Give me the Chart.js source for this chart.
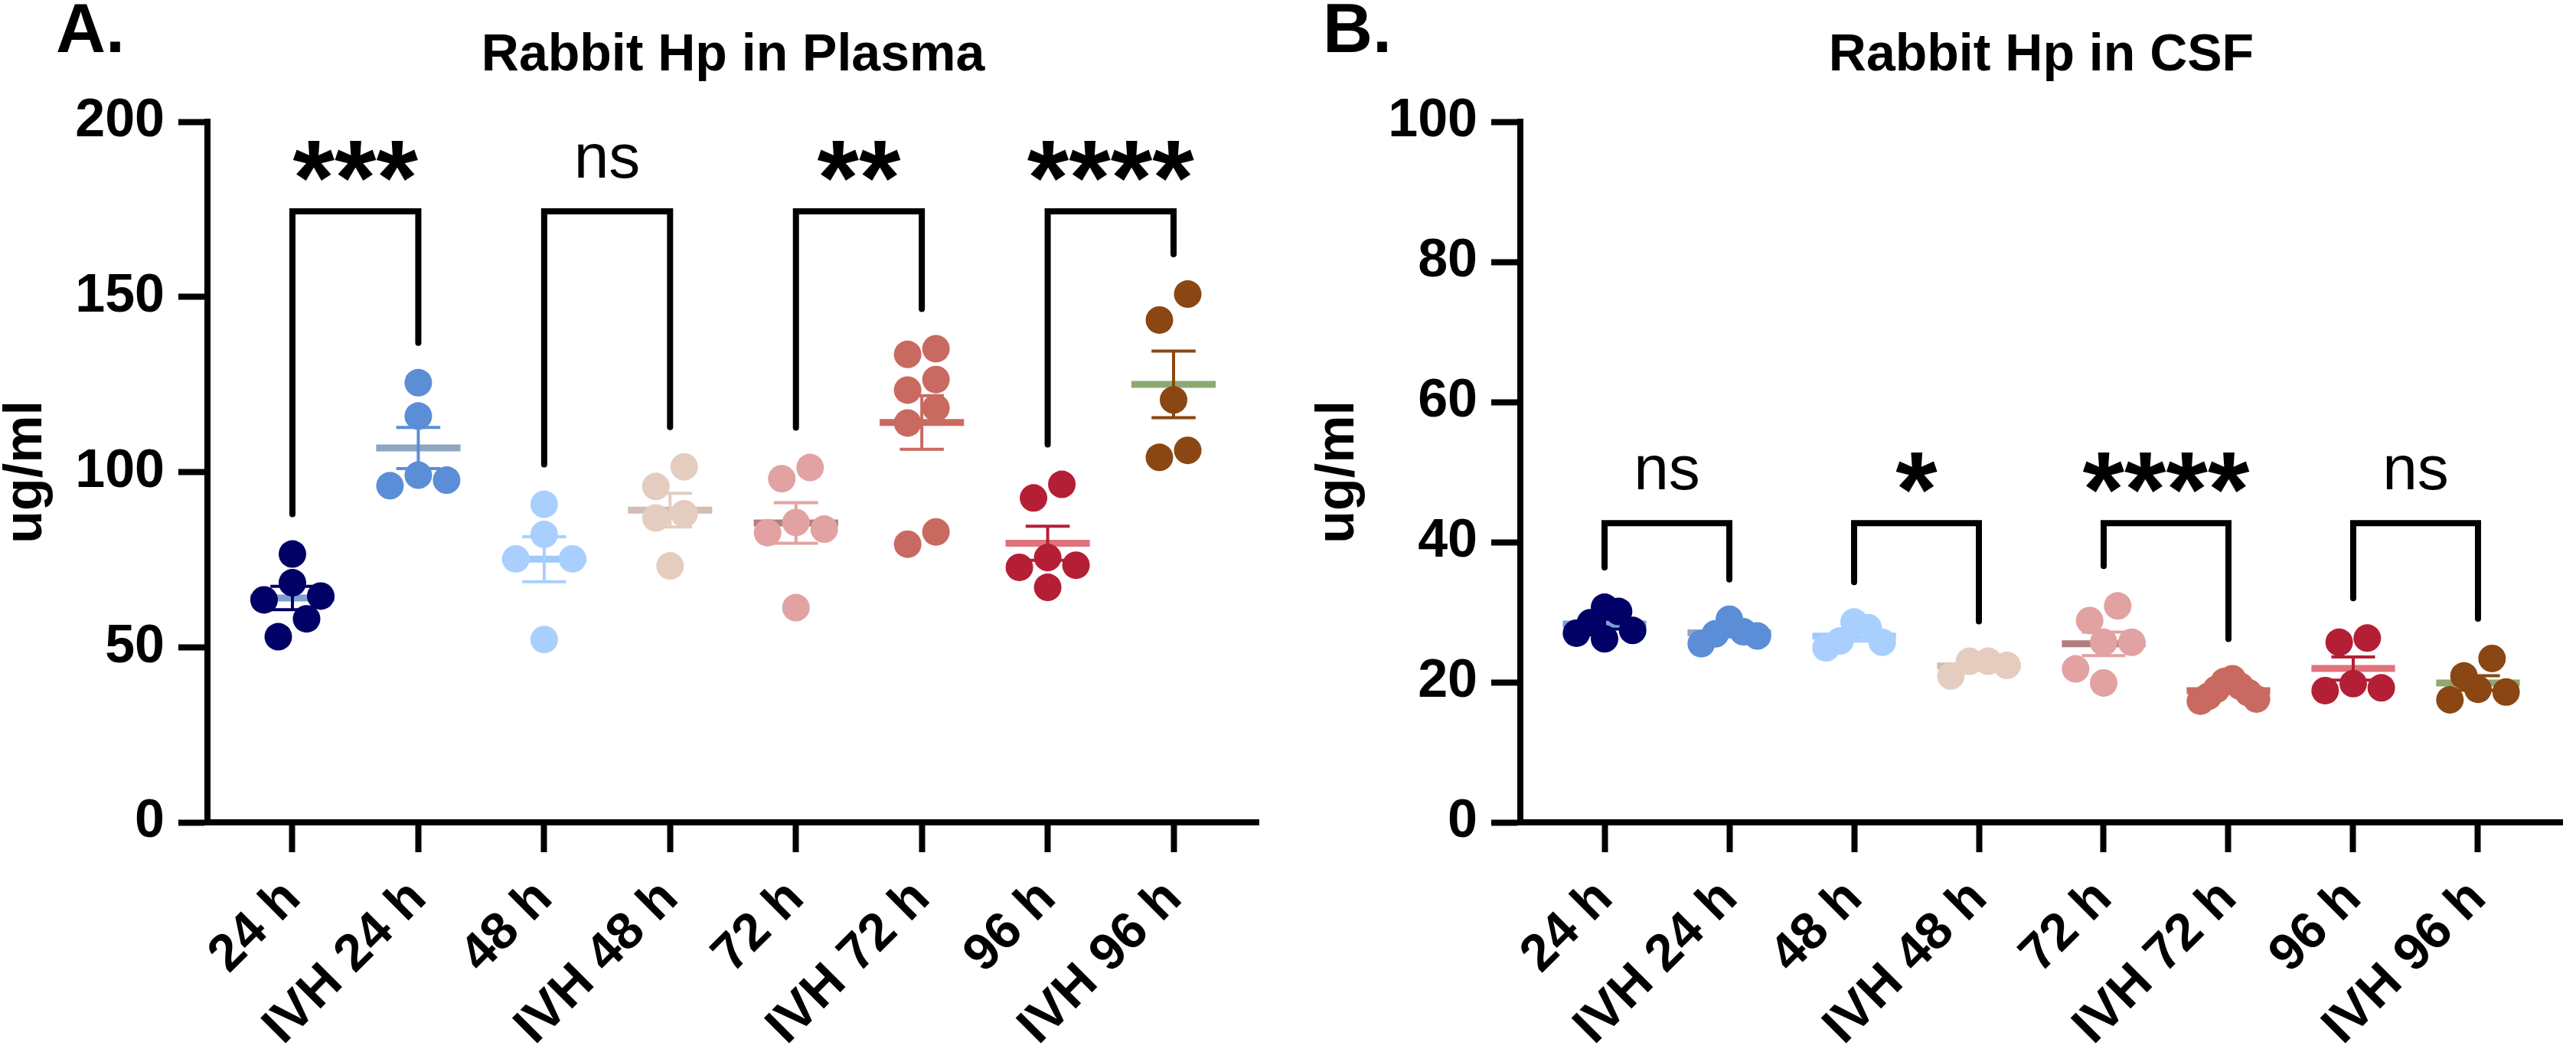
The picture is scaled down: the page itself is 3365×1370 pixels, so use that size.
<!DOCTYPE html>
<html><head><meta charset="utf-8">
<script src="https://cdn.jsdelivr.net/npm/chart.js@4.4.1/dist/chart.umd.min.js"></script>
<style>
html,body{margin:0;padding:0;background:#fff;}
#wrap{position:relative;width:3365px;height:1370px;background:#fff;overflow:hidden;}
#cA{position:absolute;left:0;top:0;}
#cB{position:absolute;left:1680px;top:0;}
</style></head><body>
<div id="wrap"><canvas id="cA" width="1680" height="1370"></canvas><canvas id="cB" width="1685" height="1370"></canvas></div>
<script>
// ---------- data ----------
const categories = ['24 h', 'IVH 24 h', '48 h', 'IVH 48 h', '72 h', 'IVH 72 h', '96 h', 'IVH 96 h'];

const plasma_24h    = [76.6, 68.4, 64.6, 63.5, 58.1, 53.0];
const plasma_IVH24h = [125.5, 116.0, 99.1, 97.7, 96.1];
const plasma_48h    = [90.8, 82.2, 75.2, 75.2, 52.2];
const plasma_IVH48h = [101.5, 95.9, 88.1, 86.9, 73.2];
const plasma_72h    = [101.3, 98.1, 85.6, 83.7, 82.7, 61.3];
const plasma_IVH72h = [135.2, 133.6, 126.4, 123.4, 118.3, 114.0, 82.9, 79.4];
const plasma_96h    = [96.5, 92.6, 75.6, 73.4, 72.8, 67.1];
const plasma_IVH96h = [150.8, 143.4, 120.6, 106.2, 104.2];

const csf_24h    = [30.7, 30.1, 28.5, 27.4, 27.0, 26.2];
const csf_IVH24h = [29.0, 27.2, 26.9, 26.6, 25.5];
const csf_48h    = [28.6, 27.8, 25.9, 25.7, 24.9];
const csf_IVH48h = [23.0, 23.0, 22.4, 20.9];
const csf_72h    = [30.9, 28.8, 25.7, 25.7, 21.9, 19.9];
const csf_IVH72h = [20.5, 20.1, 19.4, 19.0, 18.5, 18.0, 17.6, 17.3];
const csf_96h    = [26.3, 25.7, 19.8, 19.2, 18.8];
const csf_IVH96h = [23.4, 20.9, 19.0, 18.6, 17.5];

const plasmaTicks = [0, 50, 100, 150, 200];
const csfTicks = [0, 20, 40, 60, 80, 100];
const plasmaSig = ['***', 'ns', '**', '****'];
const csfSig = ['ns', '*', '****', 'ns'];

// ---------- styles ----------
const pointColors = ['#000066', '#5B8ED6', '#A9CFFF', '#E4CDBF', '#E2A2A2', '#C96A61', '#B41F36', '#8A4713'];
const meanColors  = ['#7E9FD4', '#8FA6C2', '#A0C8FA', '#D3BDB2', '#B27D7D', '#C96A61', '#E1727B', '#8CAA70'];
const FONT = '"Liberation Sans", Arial, Helvetica, sans-serif';
Chart.defaults.font.family = FONT;
const DOT_R = 18, DOT_D = 37;
const MEAN_HALF = 0.335, CAP_HALF = 0.175;
const LEG_GAP = 52, TOP_GAP = 108, SIG_GAP = 66;

function mean(a) { return a.reduce((s, v) => s + v, 0) / a.length; }
function sem(a) {
  const m = mean(a);
  const sd = Math.sqrt(a.reduce((s, v) => s + (v - m) * (v - m), 0) / (a.length - 1));
  return sd / Math.sqrt(a.length);
}
// horizontal spread (in px) of points that would overlap, row by row
function swarmOffsets(pxVals, d) {
  const order = pxVals.map((v, i) => i).sort((a, b) => pxVals[a] - pxVals[b]);
  const offs = new Array(pxVals.length).fill(0);
  const rows = []; let row = [];
  order.forEach(i => {
    if (row.length && (pxVals[i] - pxVals[row[0]]) >= d) { rows.push(row); row = []; }
    row.push(i);
  });
  if (row.length) rows.push(row);
  rows.forEach(r => {
    const n = r.length;
    if (n < 2) return;
    const s = Math.min(d, 2 * d / (n - 1));
    const slots = [...Array(n).keys()].map(k => (k - (n - 1) / 2) * s);
    slots.sort((a, b) => Math.abs(a) - Math.abs(b) || b - a);
    r.forEach((i, j) => { offs[i] = slots[j]; });
  });
  return offs;
}

const annotPlugin = {
  id: 'annot',
  afterDraw(chart, args, o) {
    const ctx = chart.ctx, xs = chart.scales.x, ys = chart.scales.y, ca = chart.chartArea;
    ctx.save();
    ctx.fillStyle = '#000';
    ctx.textBaseline = 'alphabetic';
    ctx.textAlign = 'left';
    ctx.font = 'bold 90px ' + FONT;
    ctx.fillText(o.letter, o.letterX, 68);
    ctx.textAlign = 'center';
    ctx.font = 'bold 68px ' + FONT;
    ctx.fillText(o.title, (ca.left + ca.right) / 2, 92);
    if (chart.$bracketTop !== undefined) {
      const yTop = ys.getPixelForValue(chart.$bracketTop) - SIG_GAP;
      o.sig.forEach((t, p) => {
        const cx = (xs.getPixelForValue(2 * p) + xs.getPixelForValue(2 * p + 1)) / 2;
        ctx.font = (t === 'ns' ? '82px ' : 'bold 140px ') + FONT;
        const m = ctx.measureText(t);
        const by = yTop + (m.actualBoundingBoxAscent - m.actualBoundingBoxDescent) / 2;
        ctx.fillText(t, cx, by);
      });
    }
    ctx.restore();
  }
};

function makeChart(canvas, groups, cfg) {
  const chart = new Chart(canvas, {
    type: 'scatter',
    data: { datasets: [] },
    options: {
      responsive: false, animation: false, devicePixelRatio: 1,
      layout: { padding: cfg.padding },
      plugins: {
        legend: { display: false }, tooltip: { enabled: false },
        annot: { letter: cfg.letter, letterX: cfg.letterX, title: cfg.title, sig: cfg.sig }
      },
      scales: {
        x: {
          type: 'linear', min: -0.675, max: categories.length - 0.325,
          afterBuildTicks: s => { s.ticks = categories.map((c, i) => ({ value: i })); },
          afterFit: s => { s.height = 296; },
          ticks: {
            autoSkip: false, minRotation: 45, maxRotation: 45, padding: 21, color: '#000',
            font: { size: 68, weight: 'bold' },
            callback: v => categories[v]
          },
          grid: { drawOnChartArea: false, drawTicks: true, tickLength: 39, tickWidth: 8, tickColor: '#000' },
          border: { display: true, width: 8, color: '#000' }
        },
        y: {
          min: 0, max: cfg.ticks[cfg.ticks.length - 1],
          afterBuildTicks: s => { s.ticks = cfg.ticks.map(v => ({ value: v })); },
          afterFit: s => { s.width = cfg.yWidth; },
          ticks: { padding: 18, color: '#000', font: { size: 70, weight: 'bold' } },
          grid: { drawOnChartArea: false, drawTicks: true, tickLength: 38, tickWidth: 8, tickColor: '#000' },
          border: { display: true, width: 8, color: '#000' },
          title: { display: true, text: 'ug/ml', color: '#000', padding: 0, font: { size: 70, weight: 'bold', lineHeight: 1 } }
        }
      }
    },
    plugins: [annotPlugin]
  });

  const xs = chart.scales.x, ys = chart.scales.y;
  const pxIdx = xs.getPixelForValue(1) - xs.getPixelForValue(0);
  const pxUnit = ys.getPixelForValue(0) - ys.getPixelForValue(1);
  const ds = [];
  groups.forEach((vals, g) => {
    const m = mean(vals), e = sem(vals);
    ds.push({
      type: 'line', order: 3, data: [{ x: g - MEAN_HALF, y: m }, { x: g + MEAN_HALF, y: m }],
      borderColor: meanColors[g], borderWidth: 9, pointRadius: 0, borderCapStyle: 'butt'
    });
    const offs = swarmOffsets(vals.map(v => ys.getPixelForValue(v)), DOT_D);
    ds.push({
      type: 'scatter', order: 2,
      data: vals.map((v, i) => ({ x: g + offs[i] / pxIdx, y: v })),
      pointRadius: DOT_R, pointHoverRadius: DOT_R, pointBackgroundColor: pointColors[g],
      backgroundColor: pointColors[g], pointBorderWidth: 0, borderWidth: 0
    });
    ds.push({
      type: 'line', order: 1, spanGaps: false,
      data: [
        { x: g - CAP_HALF, y: m + e }, { x: g + CAP_HALF, y: m + e }, { x: g, y: null },
        { x: g, y: m + e }, { x: g, y: m - e }, { x: g, y: null },
        { x: g - CAP_HALF, y: m - e }, { x: g + CAP_HALF, y: m - e }
      ],
      borderColor: pointColors[g], borderWidth: 4, pointRadius: 0, borderCapStyle: 'butt'
    });
  });
  const gmax = Math.max(...groups.map(a => Math.max(...a)));
  const top = gmax + TOP_GAP / pxUnit;
  chart.$bracketTop = top;
  for (let p = 0; p < groups.length / 2; p++) {
    const a = 2 * p, b = 2 * p + 1;
    ds.push({
      type: 'line', order: 0,
      data: [
        { x: a, y: Math.max(...groups[a]) + LEG_GAP / pxUnit }, { x: a, y: top },
        { x: b, y: top }, { x: b, y: Math.max(...groups[b]) + LEG_GAP / pxUnit }
      ],
      borderColor: '#000', borderWidth: 8, pointRadius: 0, tension: 0,
      borderJoinStyle: 'miter', borderCapStyle: 'round'
    });
  }
  chart.data.datasets = ds;
  chart.update('none');
  return chart;
}

makeChart(document.getElementById('cA'),
  [plasma_24h, plasma_IVH24h, plasma_48h, plasma_IVH48h, plasma_72h, plasma_IVH72h, plasma_96h, plasma_IVH96h],
  { padding: { left: 0, right: 36, top: 159, bottom: 0 }, yWidth: 271, ticks: plasmaTicks,
    letter: 'A.', letterX: 73, title: 'Rabbit Hp in Plasma', sig: plasmaSig });

makeChart(document.getElementById('cB'),
  [csf_24h, csf_IVH24h, csf_48h, csf_IVH48h, csf_72h, csf_IVH72h, csf_96h, csf_IVH96h],
  { padding: { left: 34, right: 6, top: 159, bottom: 0 }, yWidth: 272, ticks: csfTicks,
    letter: 'B.', letterX: 48, title: 'Rabbit Hp in CSF', sig: csfSig });
</script>
</body></html>
